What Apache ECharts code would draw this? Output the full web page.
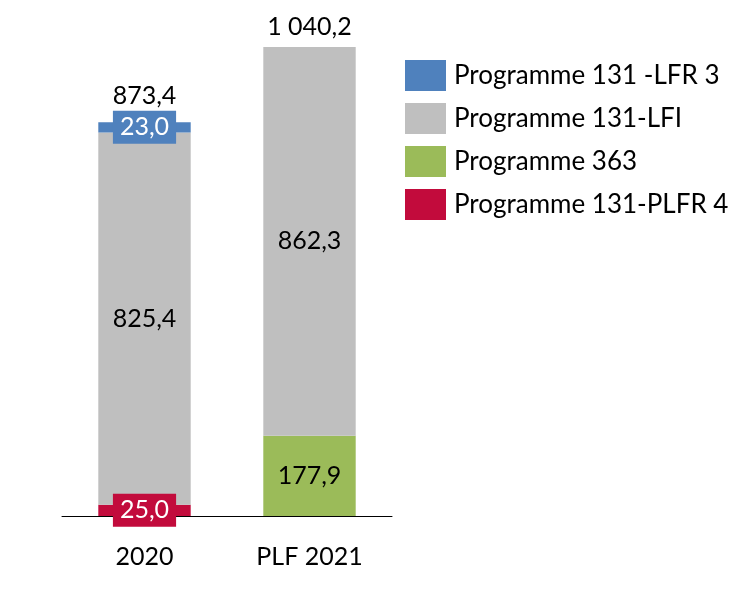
<!DOCTYPE html>
<html>
<head>
<meta charset="utf-8">
<script src="https://cdn.jsdelivr.net/npm/echarts@6/dist/echarts.min.js"></script>
<style>html,body{margin:0;padding:0;background:#fff}#c{width:749px;height:590px}</style>
</head>
<body>
<div id="c"></div>
<script>
var categories = ['2020', 'PLF 2021'];
var plfr4 = [25.0, null];
var prog363 = [null, 177.9];
var lfi = [825.4, 862.3];
var lfr3 = [23.0, null];
var names = ['Programme 131 -LFR 3', 'Programme 131-LFI', 'Programme 363', 'Programme 131-PLFR 4'];

var totals = categories.map(function (c, i) {
  return [plfr4, prog363, lfi, lfr3].reduce(function (s, a) { return s + (a[i] || 0); }, 0);
});

function fmt(v) {
  var s = v.toFixed(1).split('.');
  var ip = s[0].replace(/\B(?=(\d{3})+(?!\d))/g, ' ');
  return ip + ',' + s[1];
}
var FONT = 'Lato';
var FS = 25;
var chart = echarts.init(document.getElementById('c'));
var boxLabel = function (color) {
  return {
    show: true, position: 'inside', color: '#fff', fontSize: FS, fontFamily: FONT,
    backgroundColor: color, padding: [5, 7, 3, 7],
    formatter: function (p) { return fmt(p.value); }
  };
};
var plainLabel = {
  show: true, position: 'inside', color: '#000', fontSize: FS, fontFamily: FONT,
  formatter: function (p) { return fmt(p.value); }
};
chart.setOption({
  animation: false,
  backgroundColor: '#fff',
  grid: { left: 62, right: 357, top: 20, bottom: 74 },
  legend: {
    data: names, orient: 'vertical', left: 405, top: 60, padding: 0,
    itemWidth: 41, itemHeight: 31, itemGap: 12, icon: 'rect',
    textStyle: { fontSize: 26, fontFamily: FONT, color: '#000', padding: [0, 0, 0, 3] }
  },
  xAxis: {
    type: 'category', data: categories,
    axisLine: { lineStyle: { color: '#000', width: 1 } },
    axisTick: { show: false },
    axisLabel: { color: '#000', fontSize: FS, fontFamily: FONT, margin: 28 }
  },
  yAxis: { type: 'value', min: 0, max: 1100, show: false, splitLine: { show: false } },
  series: [
    { name: names[3], type: 'bar', stack: 's', barWidth: '56%', data: plfr4,
      itemStyle: { color: '#C20B3C' }, label: boxLabel('#C20B3C') },
    { name: names[2], type: 'bar', stack: 's', data: prog363,
      itemStyle: { color: '#9BBB59' }, label: plainLabel },
    { name: names[1], type: 'bar', stack: 's', data: lfi,
      itemStyle: { color: '#BFBFBF' }, label: plainLabel },
    { name: names[0], type: 'bar', stack: 's', data: lfr3,
      itemStyle: { color: '#4F81BD' }, label: boxLabel('#4F81BD') },
    { name: 'total', type: 'bar', stack: 's', silent: true,
      itemStyle: { color: 'rgba(0,0,0,0)' },
      data: [
        { value: 0, label: { distance: 14 } },
        { value: 0, label: { distance: 8 } }
      ],
      label: { show: true, position: 'top', color: '#000', fontSize: FS, fontFamily: FONT,
        formatter: function (p) { return fmt(totals[p.dataIndex]); } } }
  ]
});
</script>
</body>
</html>
